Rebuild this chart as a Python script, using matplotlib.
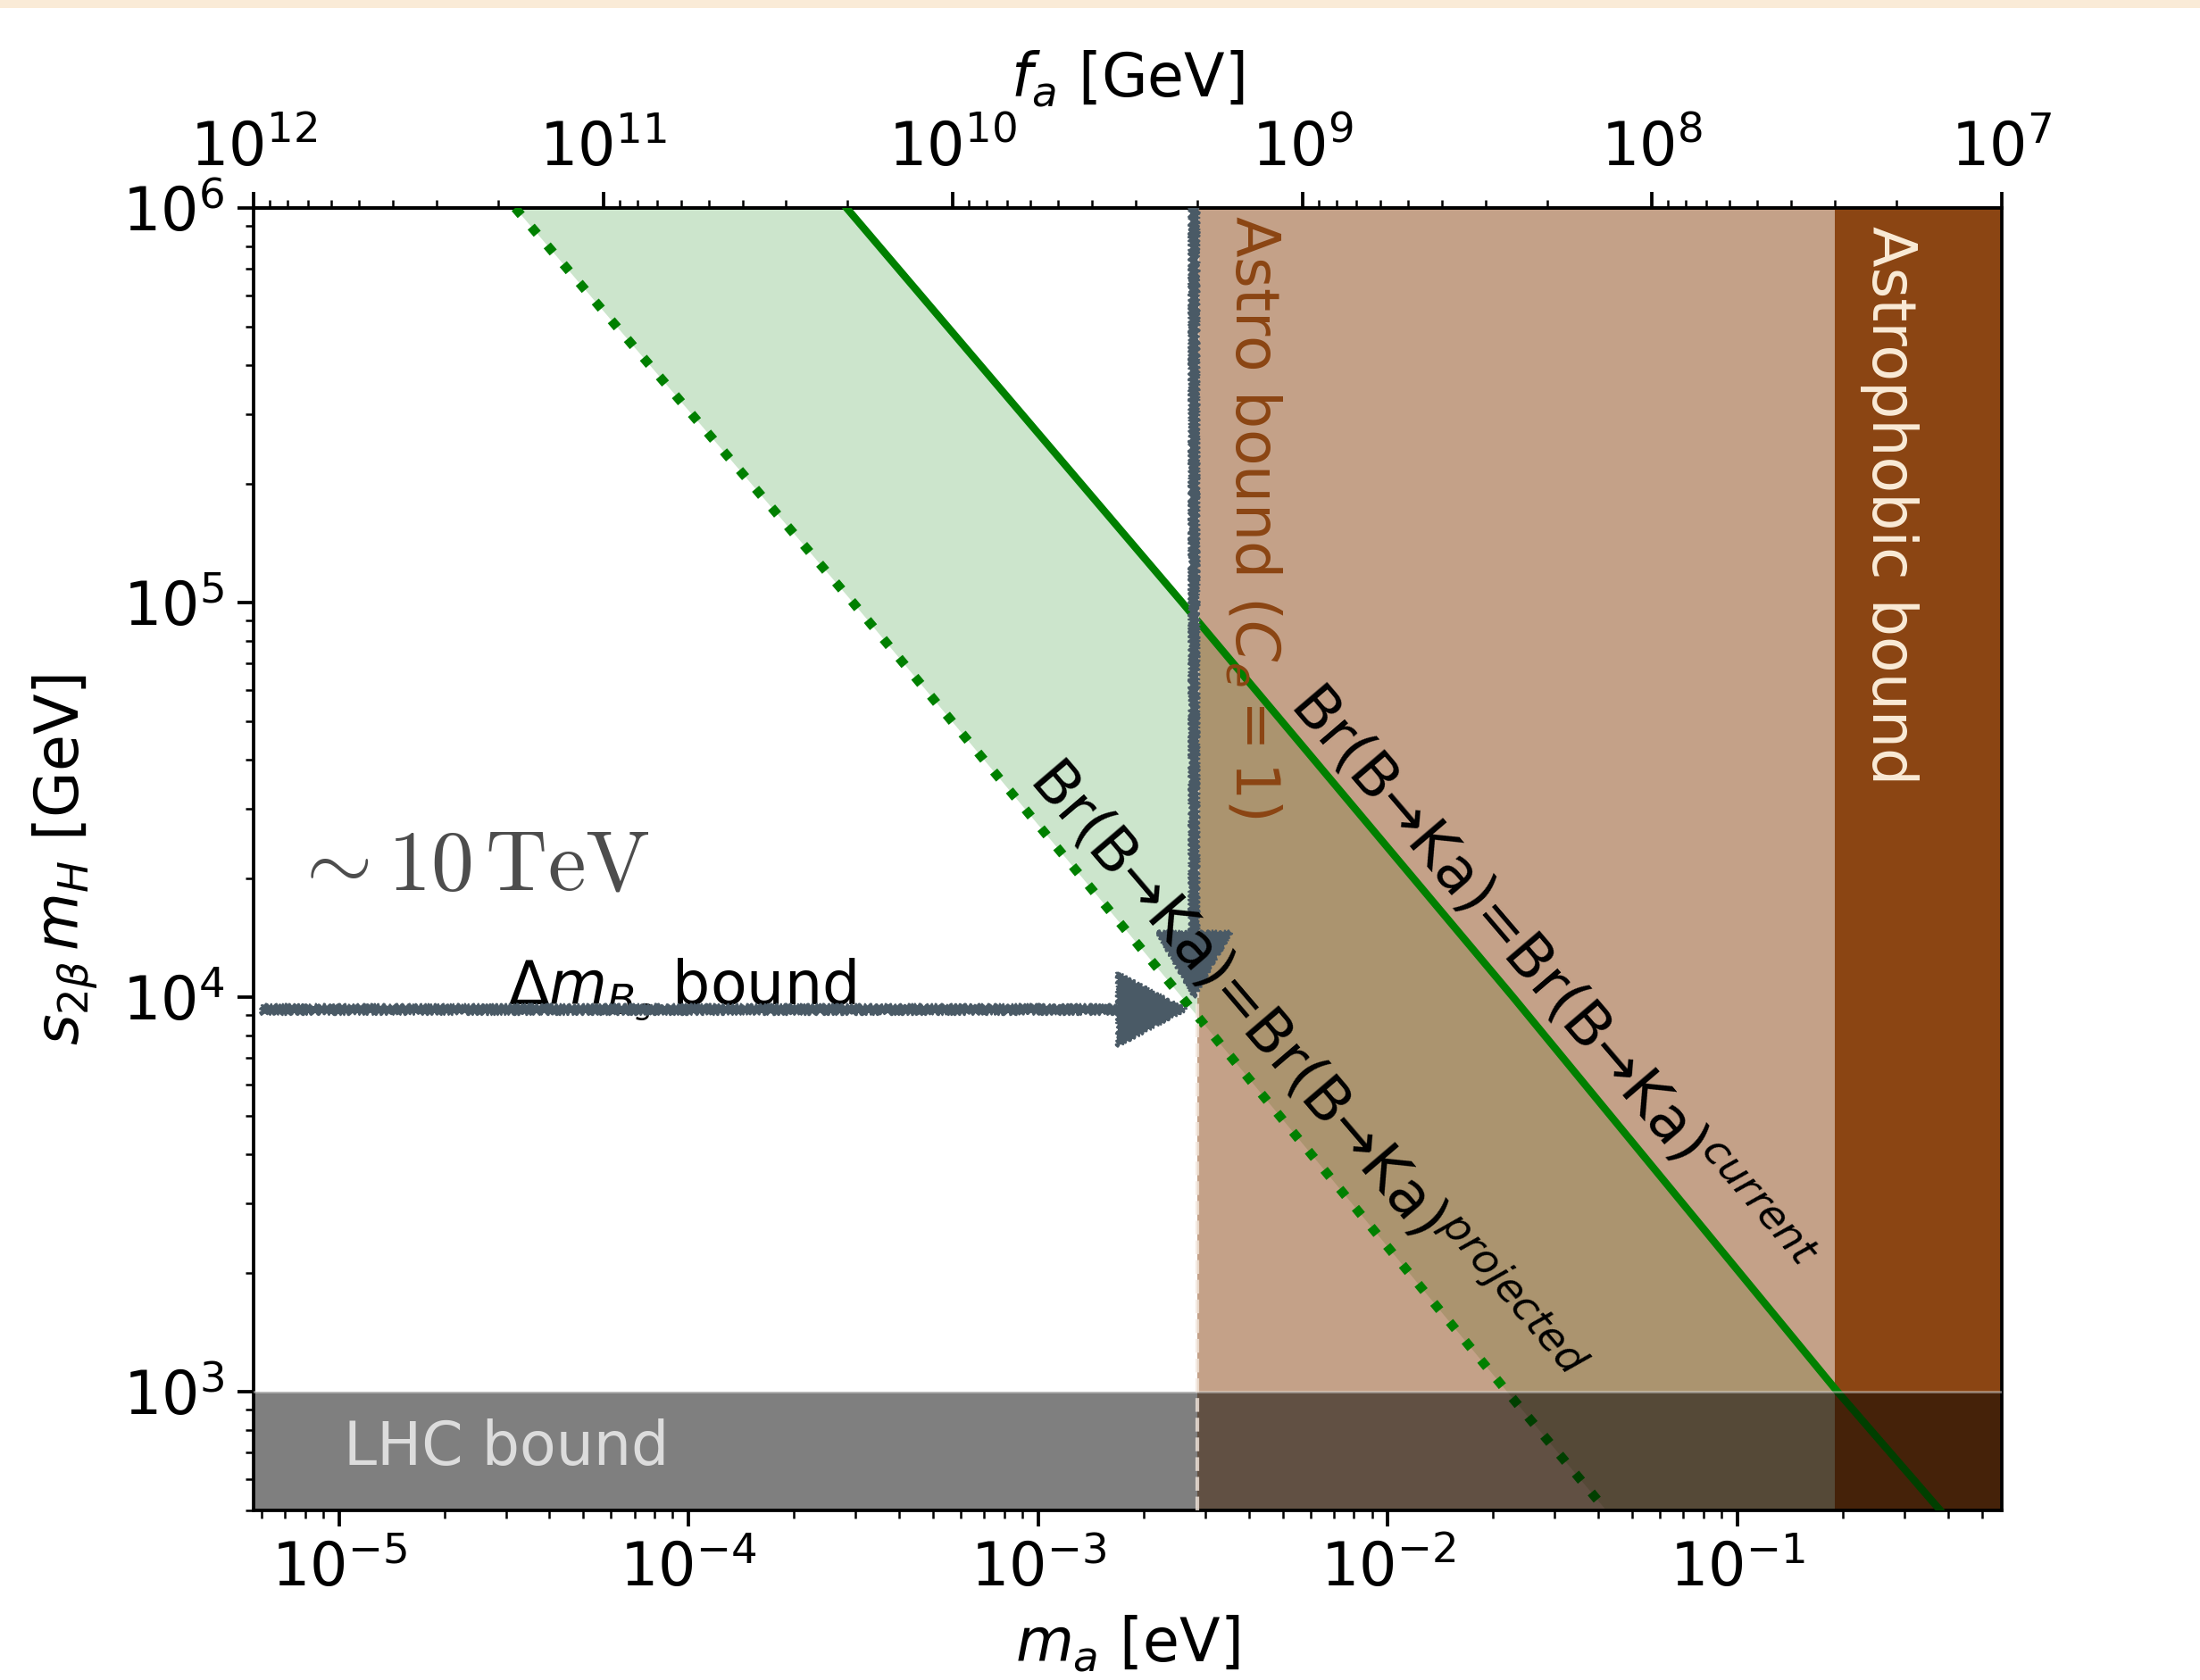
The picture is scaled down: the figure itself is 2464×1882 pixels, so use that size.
"""Axion parameter space: s_2beta m_H vs m_a with Br(B->Ka) reach and astro bounds."""

import matplotlib as mpl
import matplotlib.pyplot as plt
from matplotlib.patches import FancyArrowPatch, Rectangle

# m_a [eV] * f_a [GeV]
MA_TIMES_FA = 5.7e6

X_LIM = (5.7e-6, 0.57)
Y_LIM = (5e2, 1e6)
FA_TICKS = [1e12, 1e11, 1e10, 1e9, 1e8, 1e7]

LINE_Y = [1e6, 1e5, 1e4, 1e3, 5e2]
CURRENT_MA = [2.83e-4, 2.58e-3, 2.28e-2, 1.93e-1, 3.8e-1]
PROJECTED_MA = [3.19e-5, 2.95e-4, 2.57e-3, 2.19e-2, 4.21e-2]

ASTRO_MA = 2.85e-3        # f_a ~ 2e9 GeV
ASTROPHOBIC_MA = 0.19     # f_a ~ 3e7 GeV
LHC_Y = 1e3

# arrows: Delta m_Bs bound (horizontal) and astro bound (vertical)
DMBS_ARROW_X = [6.0e-6, 2.65e-3]
DMBS_ARROW_Y = 9.3e3
ASTRO_ARROW_X = 2.79e-3
ASTRO_ARROW_Y = [1e6, 1.0e4]

ARROW_COLOR = "#4a5a66"
FS = 16


def _set_style() -> None:
    mpl.rcParams.update(
        {
            "font.family": "DejaVu Sans",
            "mathtext.fontset": "dejavusans",
            "font.size": FS,
            "axes.linewidth": 0.9,
            "xtick.major.size": 4.4,
            "ytick.major.size": 4.4,
            "xtick.minor.size": 2.2,
            "ytick.minor.size": 2.2,
            "xtick.major.width": 0.9,
            "ytick.major.width": 0.9,
            "xtick.labelsize": FS,
            "ytick.labelsize": FS,
        }
    )


def _sketch_arrow(ax, start, end, head_length, head_width, tail_width):
    arr = FancyArrowPatch(
        posA=start,
        posB=end,
        arrowstyle=f"simple,head_length={head_length},head_width={head_width},tail_width={tail_width}",
        mutation_scale=1,
        shrinkA=0,
        shrinkB=0,
        color=ARROW_COLOR,
        lw=0.5,
        transform=ax.transData,
        zorder=6,
    )
    # hand-drawn look
    arr.set_sketch_params(scale=1.8, length=6, randomness=3)
    ax.add_patch(arr)


def main() -> None:
    _set_style()
    fig = plt.figure(figsize=(2464 / 300, 1882 / 300), dpi=300)
    ax = fig.add_axes([0.1153, 0.1010, 0.7946, 0.7752])
    ax.set_xscale("log")
    ax.set_yscale("log")
    ax.set_xlim(*X_LIM)
    ax.set_ylim(*Y_LIM)

    # page strip along the top
    fig.add_artist(Rectangle((0, 1 - 9 / 1882), 1, 9 / 1882, transform=fig.transFigure,
                             color="#FAEBD7", lw=0, zorder=0))

    # Br(B->Ka) band
    ax.fill_betweenx(LINE_Y, PROJECTED_MA, CURRENT_MA, color="green", alpha=0.2, lw=0, zorder=1)

    # astro bounds
    ax.axvspan(ASTRO_MA, X_LIM[1], color="saddlebrown", alpha=0.5, lw=0, zorder=2)
    ax.axvspan(ASTROPHOBIC_MA, X_LIM[1], color="saddlebrown", lw=0, zorder=2.5)
    ax.axvline(ASTRO_MA, color="#f3e6dc", ls="--", lw=1.0, alpha=0.8, zorder=4.5)

    ax.plot(CURRENT_MA, LINE_Y, color="green", lw=2.0, zorder=3)
    ax.plot(PROJECTED_MA, LINE_Y, color="green", lw=2.5, ls=":", zorder=3)

    # LHC
    ax.axhspan(Y_LIM[0], LHC_Y, color="black", alpha=0.5, lw=0, zorder=4)
    ax.axhline(LHC_Y, color="white", lw=0.6, alpha=0.45, zorder=4)

    _sketch_arrow(ax, (DMBS_ARROW_X[0], DMBS_ARROW_Y), (DMBS_ARROW_X[1], DMBS_ARROW_Y),
                  head_length=18.5, head_width=19.7, tail_width=2.2)
    _sketch_arrow(ax, (ASTRO_ARROW_X, ASTRO_ARROW_Y[0]), (ASTRO_ARROW_X, ASTRO_ARROW_Y[1]),
                  head_length=17.5, head_width=20.0, tail_width=2.2)

    # labels inside the plot
    ax.text(1.03e-5, 7.2e2, "LHC bound", color="#dcdcdc", fontsize=FS, ha="left", va="center", zorder=7)
    ax.text(4.1e-3, 9.6e5, r"Astro bound ($C_e = 1$)", color="saddlebrown", fontsize=FS,
            rotation=-90, ha="center", va="top", zorder=7)
    ax.text(0.272, 9.0e5, "Astrophobic bound", color="antiquewhite", fontsize=FS,
            rotation=-90, ha="center", va="top", zorder=7)
    ax.text(7.3e-6, 2.15e4, r"$\sim 10\,\mathrm{TeV}$", color="#4d4d4d", fontsize=23,
            math_fontfamily="cm", ha="left", va="center", zorder=7)
    ax.text(3.05e-5, 9.6e3, r"$\Delta m_{B_s}$ bound", color="black", fontsize=FS,
            ha="left", va="baseline", zorder=5)
    ax.text(0.0291, 1.09e4, r"Br(B→Ka)=Br(B→Ka)$^{current}$", fontsize=FS, rotation=-49.5,
            rotation_mode="anchor", ha="center", va="center", zorder=7)
    ax.text(5.78e-3, 6.42e3, r"Br(B→Ka)=Br(B→Ka)$^{projected}$", fontsize=FS, rotation=-49.5,
            rotation_mode="anchor", ha="center", va="center", zorder=7)

    ax.set_xlabel(r"$m_a$ [eV]", fontsize=FS, labelpad=4)
    ax.set_ylabel(r"$s_{2\beta}\,m_H$ [GeV]", fontsize=FS, labelpad=6)

    secax = ax.secondary_xaxis(
        "top", functions=(lambda m: MA_TIMES_FA / m, lambda f: MA_TIMES_FA / f)
    )
    secax.set_xticks(FA_TICKS)
    secax.set_xlabel(r"$f_a$ [GeV]", fontsize=FS, labelpad=6)

    fig.savefig("out.png", dpi=300)
    plt.close(fig)


if __name__ == "__main__":
    main()
